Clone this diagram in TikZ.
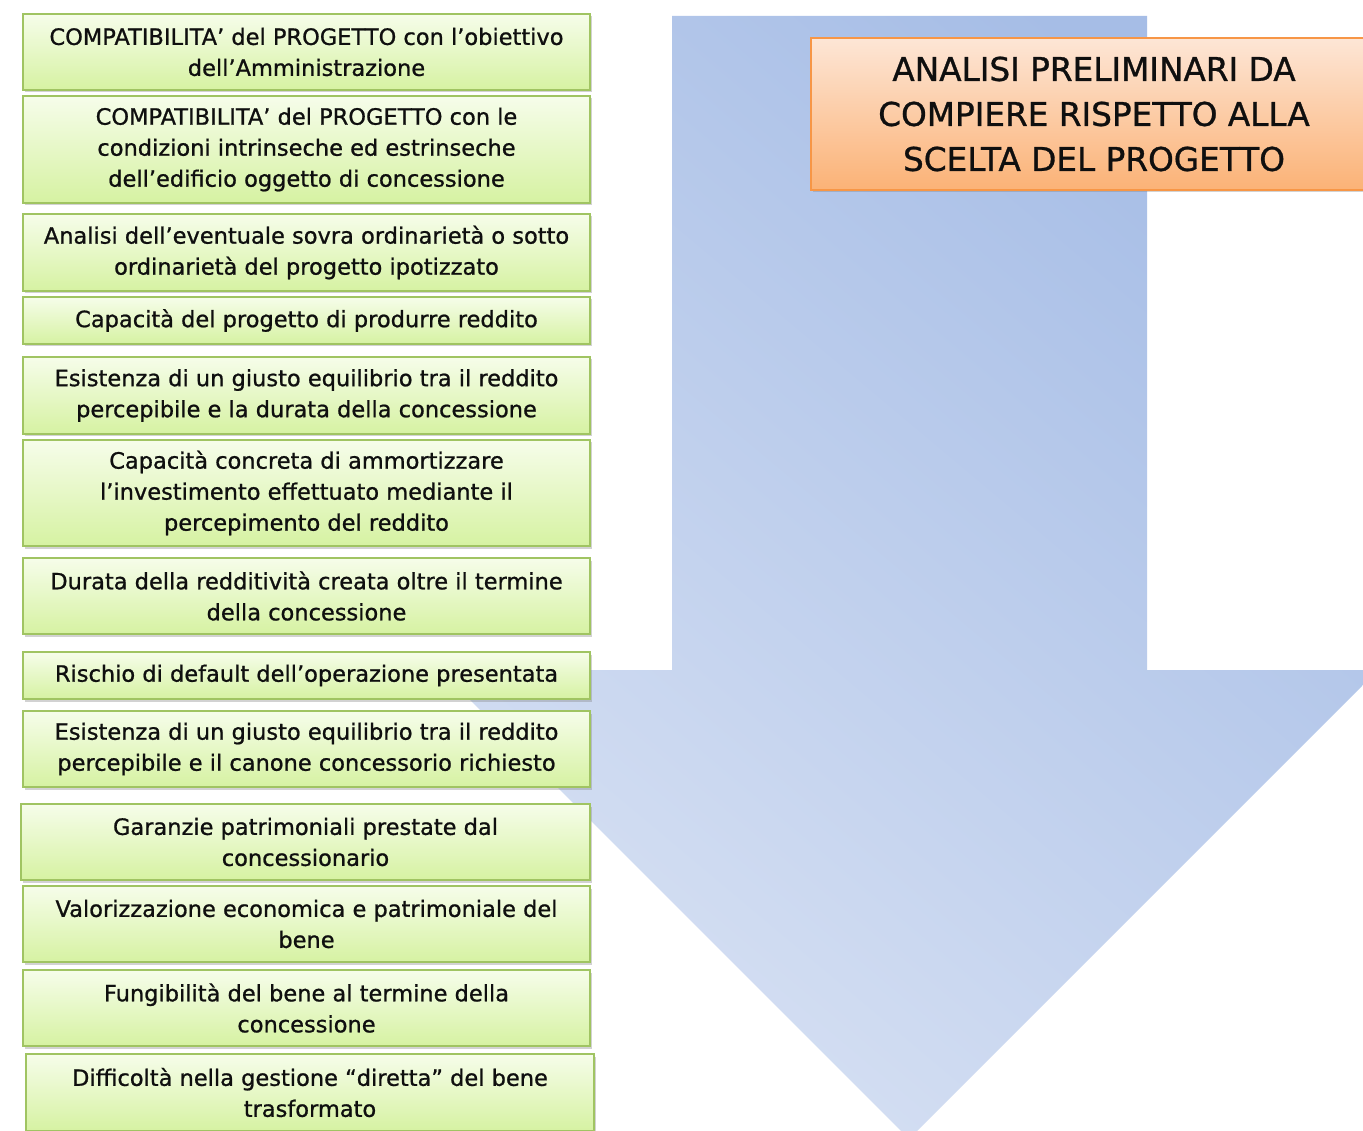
\documentclass[tikz,border=0pt]{standalone}
\usepackage{fontspec}
\setmainfont{DejaVu Sans}
\newfontface\boxfont{DejaVu Sans}[FakeBold=0.9]
\usetikzlibrary{shadows}
\definecolor{greenborder}{RGB}{160,196,98}
\definecolor{greentop}{RGB}{246,253,234}
\definecolor{greenbot}{RGB}{214,242,162}
\definecolor{orangeborder}{RGB}{247,150,70}
\definecolor{orangetop}{RGB}{253,230,214}
\definecolor{orangebot}{RGB}{251,178,118}
\definecolor{arrowdark}{RGB}{166,189,230}
\definecolor{arrowlight}{RGB}{214,224,243}
\definecolor{textc}{RGB}{15,15,15}
\begin{document}
\begin{tikzpicture}[x=1pt,y=-1pt,
  item/.style={draw=greenborder, line width=1.3pt, top color=greentop, bottom color=greenbot,
    minimum width=567pt, inner sep=0pt, align=center, text=textc,
    font=\boxfont\fontsize{22.5}{31}\selectfont,
    drop shadow={opacity=0.35, shadow xshift=1.5pt, shadow yshift=-2.5pt}},
  titlebox/.style={draw=orangeborder, line width=1.3pt, top color=orangetop, bottom color=orangebot,
    minimum width=566pt, minimum height=152pt, inner sep=0pt, align=center, text=textc,
    font=\boxfont\fontsize{32.7}{45}\selectfont,
    drop shadow={opacity=0.35, shadow xshift=1.5pt, shadow yshift=-2.5pt}},
  bigarrow/.style={shading=axis, top color=arrowdark, bottom color=arrowlight, shading angle=-40}
]
\clip (0,0) rectangle (1363,1131);
\fill[white] (0,0) rectangle (1363,1131);
\shade[bigarrow] (672,16) -- (1147,16) -- (1147,670) -- (1378,670) -- (909,1139) -- (440,670) -- (672,670) -- cycle;

\node[titlebox] (title) at (1094,114) {ANALISI PRELIMINARI DA\\COMPIERE RISPETTO ALLA\\SCELTA DEL PROGETTO};

\node[item, minimum height=76pt] (b1) at (306.5,52) {COMPATIBILITA’ del PROGETTO con l’obiettivo\\dell’Amministrazione};
\node[item, minimum height=107pt] (b2) at (306.5,149.5) {COMPATIBILITA’ del PROGETTO con le\\condizioni intrinseche ed estrinseche\\dell’edificio oggetto di concessione};
\node[item, minimum height=77pt] (b3) at (306.5,252.5) {Analisi dell’eventuale sovra ordinarietà o sotto\\ordinarietà del progetto ipotizzato};
\node[item, minimum height=47pt] (b4) at (306.5,320.5) {Capacità del progetto di produrre reddito};
\node[item, minimum height=77pt] (b5) at (306.5,395.5) {Esistenza di un giusto equilibrio tra il reddito\\percepibile e la durata della concessione};
\node[item, minimum height=106pt] (b6) at (306.5,493) {Capacità concreta di ammortizzare\\l’investimento effettuato mediante il\\percepimento del reddito};
\node[item, minimum height=76pt] (b7) at (306.5,596) {Durata della redditività creata oltre il termine\\della concessione};
\node[item, minimum height=47pt] (b8) at (306.5,675.5) {Rischio di default dell’operazione presentata};
\node[item, minimum height=76pt] (b9) at (306.5,749) {Esistenza di un giusto equilibrio tra il reddito\\percepibile e il canone concessorio richiesto};
\node[item, minimum height=76pt, minimum width=569pt] (b10) at (305.5,842) {Garanzie patrimoniali prestate dal\\concessionario};
\node[item, minimum height=76pt] (b11) at (306.5,924) {Valorizzazione economica e patrimoniale del\\bene};
\node[item, minimum height=76pt] (b12) at (306.5,1008) {Fungibilità del bene al termine della\\concessione};
\node[item, minimum height=77pt, minimum width=568pt] (b13) at (310,1092.5) {Difficoltà nella gestione “diretta” del bene\\trasformato};
\end{tikzpicture}
\end{document}
